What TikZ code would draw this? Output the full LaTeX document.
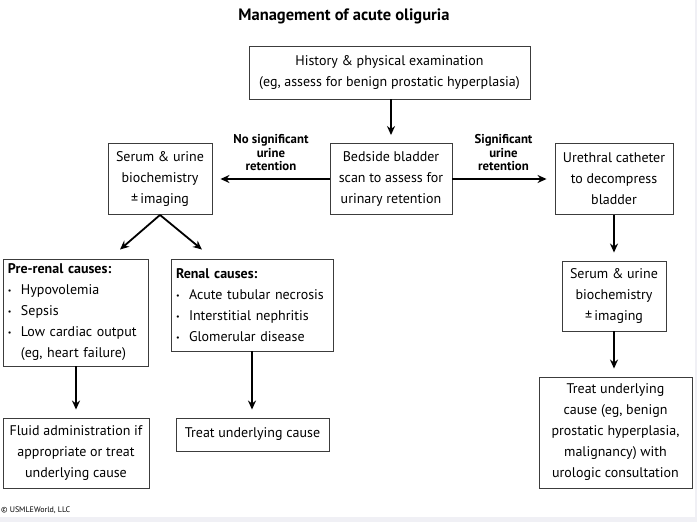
\documentclass[tikz,border=0pt]{standalone}
\usepackage{fontspec}
\setmainfont{PT Sans}
\usepackage{tikz}
\usetikzlibrary{arrows.meta, positioning}
\definecolor{framegray}{RGB}{60,60,60}
\definecolor{edgegray}{RGB}{240,240,245}
\tikzset{box/.style={draw=framegray, line width=0.9pt, align=center, inner xsep=5pt, inner ysep=0pt,
    font=\fontsize{14}{21}\selectfont},
  lbl/.style={font=\bfseries\fontsize{12.8}{13.5}\selectfont, align=center, inner sep=0pt},
  flow/.style={->, line width=1.8pt, shorten >=8pt}}
\newcommand{\bul}{\makebox[13pt][l]{\raisebox{0.15ex}{\fontsize{8}{8}\selectfont\textbullet}}}

\begin{document}
\begin{tikzpicture}[x=1pt, y=-1pt, >={Stealth[length=9pt, width=8pt]}]
  \fill[edgegray] (0,0) rectangle (697,522);
  \fill[white] (0,0) rectangle (695,517);
  \useasboundingbox (0,0) rectangle (697,522);

  \node[font=\bfseries\fontsize{16.5}{18}\selectfont] (title) at (344,16) {Management of acute oliguria};

  \node[box, minimum width=281, minimum height=53] (hist) at (389.5,72.5)
    {History \& physical examination\\(eg, assess for benign prostatic hyperplasia)};
  \node[box, minimum width=122, minimum height=71] (scan) at (391,179)
    {Bedside bladder\\scan to assess for\\urinary retention};
  \node[box, minimum width=104, minimum height=71] (serumL) at (160,179)
    {Serum \& urine\\biochemistry\\±\,imaging};
  \node[box, minimum width=118, minimum height=71] (cath) at (614,179)
    {Urethral catheter\\to decompress\\bladder};

  \node[box, align=left, text width=135, minimum height=107] (prerenal) at (75.5,312.5)
    {\textbf{Pre-renal causes:}\\\bul Hypovolemia\\\bul Sepsis\\\bul Low cardiac output\\\hspace*{13pt}(eg, heart failure)};
  \node[box, align=left, text width=152, minimum height=92] (renal) at (252,305)
    {\textbf{Renal causes:}\\\bul Acute tubular necrosis\\\bul Interstitial nephritis\\\bul Glomerular disease};

  \node[box, minimum width=146, minimum height=70] (fluid) at (76,453)
    {Fluid administration if\\appropriate or treat\\underlying cause};
  \node[box, minimum width=153, minimum height=33] (treatL) at (252.5,434.5)
    {Treat underlying cause};

  \node[box, minimum width=104, minimum height=70] (serumR) at (614,296)
    {Serum \& urine\\biochemistry\\±\,imaging};
  \node[box, minimum width=153, minimum height=111] (treatR) at (615.5,432.5)
    {Treat underlying\\cause (eg, benign\\prostatic hyperplasia,\\malignancy) with\\urologic consultation};

  \node[anchor=west, font=\fontsize{8}{9}\selectfont, inner sep=0pt] (copy) at (1,510) {\textcopyright{} USMLEWorld, LLC};

  % arrows
  \draw[flow] (hist.south -| scan.north) -- (scan.north);
  \draw[flow] (scan) -- (serumL) node[lbl, midway, above=7pt] {No significant\\urine\\retention};
  \draw[flow] (scan) -- (cath) node[lbl, midway, above=7pt] {Significant\\urine\\retention};
  \draw[flow, shorten >=0pt] (serumL.south) -- ([xshift=44.5pt, yshift=9pt]prerenal.north);
  \draw[flow, shorten >=0pt] (serumL.south) -- ([xshift=-50pt, yshift=9pt]renal.north);
  \draw[flow] (prerenal.south -| fluid.north) -- (fluid.north);
  \draw[flow] (renal.south) -- (renal.south |- treatL.north);
  \draw[flow] (cath.south) -- (cath.south |- serumR.north);
  \draw[flow] (serumR.south) -- (serumR.south |- treatR.north);
\end{tikzpicture}
\end{document}
